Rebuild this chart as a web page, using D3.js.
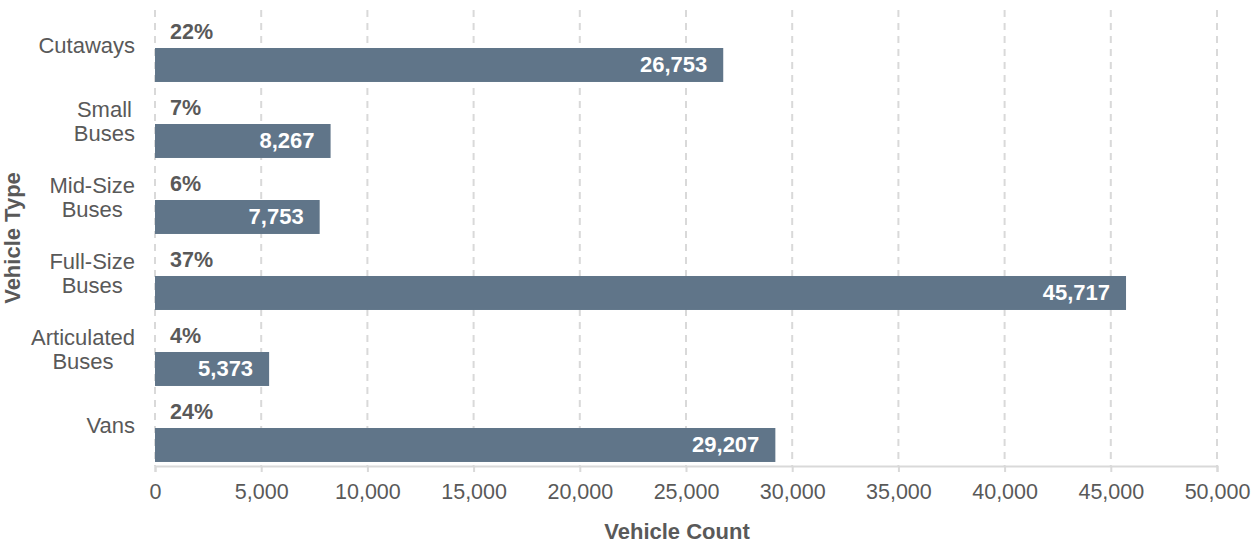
<!DOCTYPE html>
<html>
<head>
<meta charset="utf-8">
<script src="https://cdn.jsdelivr.net/npm/d3@7"></script>
<style>
  body { margin: 0; background: #fff; }
  svg { display: block; font-family: "Liberation Sans", Arial, sans-serif; }
</style>
</head>
<body>
<svg id="chart" width="1255" height="547"></svg>
<script>
// data
const categories = [["Cutaways"], ["Small", "Buses"], ["Mid-Size", "Buses"], ["Full-Size", "Buses"], ["Articulated", "Buses"], ["Vans"]];
const counts = [26753, 8267, 7753, 45717, 5373, 29207];
const shares = ["22%", "7%", "6%", "37%", "4%", "24%"];
const xTicks = [0, 5000, 10000, 15000, 20000, 25000, 30000, 35000, 40000, 45000, 50000];

const textColor = "#595959";
const barColor = "#607589";
const gridColor = "#d9d9d9";

const data = categories.map((c, i) => ({ key: c.join(" "), lines: c, count: counts[i], share: shares[i] }));

const svg = d3.select("#chart");

const x = d3.scaleLinear().domain([0, 50000]).range([155, 1217]);
const y = d3.scaleBand().domain(data.map(d => d.key)).range([10, 466]).paddingInner(0);
const bw = y.bandwidth();

// dashed vertical gridlines
svg.append("g")
    .selectAll("line")
    .data(xTicks)
    .join("line")
    .attr("x1", d => x(d)).attr("x2", d => x(d))
    .attr("y1", 10).attr("y2", 466)
    .attr("stroke", gridColor)
    .attr("stroke-width", 2)
    .attr("stroke-dasharray", "7,6");

// bars
const barTop = d => y(d.key) + bw * 0.5;
const barH = bw * 0.447;

svg.append("g")
    .selectAll("rect")
    .data(data)
    .join("rect")
    .attr("x", x(0))
    .attr("y", barTop)
    .attr("width", d => x(d.count) - x(0))
    .attr("height", barH)
    .attr("fill", barColor);

// x axis
const xAxis = svg.append("g")
    .attr("transform", "translate(0,466)")
    .call(d3.axisBottom(x).tickValues(xTicks).tickFormat(d3.format(",")).tickSizeOuter(0).tickSize(6).tickPadding(12));
xAxis.select(".domain").attr("stroke", gridColor).attr("stroke-width", 2);
xAxis.selectAll(".tick line").attr("stroke", gridColor).attr("stroke-width", 2);
xAxis.selectAll(".tick text")
    .attr("fill", textColor)
    .style("font-size", "21.5px")
    .style("font-family", "'Liberation Sans', Arial, sans-serif");

// value labels inside bars
svg.append("g")
    .selectAll("text")
    .data(data)
    .join("text")
    .attr("x", d => x(d.count) - 16)
    .attr("y", d => barTop(d) + barH / 2 + 7.5)
    .attr("text-anchor", "end")
    .attr("fill", "#fff")
    .style("font-size", "22px")
    .style("font-weight", "bold")
    .text(d => d3.format(",")(d.count));

// share labels above bars
svg.append("g")
    .selectAll("text")
    .data(data)
    .join("text")
    .attr("x", x(0) + 15)
    .attr("y", d => y(d.key) + 29)
    .attr("fill", textColor)
    .style("font-size", "21.5px")
    .style("font-weight", "bold")
    .text(d => d.share);

// category labels: block right-aligned, lines centred within the block
const lineH = 24;
const labelRight = 135;
const cat = svg.append("g")
    .selectAll("text")
    .data(data)
    .join("text")
    .attr("text-anchor", "middle")
    .attr("fill", textColor)
    .style("font-size", "22px");

cat.each(function(d) {
    const n = d.lines.length;
    const center = y(d.key) + 35;
    const spans = d3.select(this).selectAll("tspan")
        .data(d.lines)
        .join("tspan")
        .attr("y", (l, i) => center + 8 + (i - (n - 1) / 2) * lineH)
        .text(l => l);
    const widest = d3.max(spans.nodes(), s => s.getComputedTextLength());
    spans.attr("x", labelRight - widest / 2);
});

// axis titles
svg.append("text")
    .attr("x", 677)
    .attr("y", 539)
    .attr("text-anchor", "middle")
    .attr("fill", textColor)
    .style("font-size", "22px")
    .style("font-weight", "bold")
    .text("Vehicle Count");

svg.append("text")
    .attr("transform", "translate(20,238) rotate(-90)")
    .attr("text-anchor", "middle")
    .attr("fill", textColor)
    .style("font-size", "22px")
    .style("font-weight", "bold")
    .text("Vehicle Type");
</script>
</body>
</html>
